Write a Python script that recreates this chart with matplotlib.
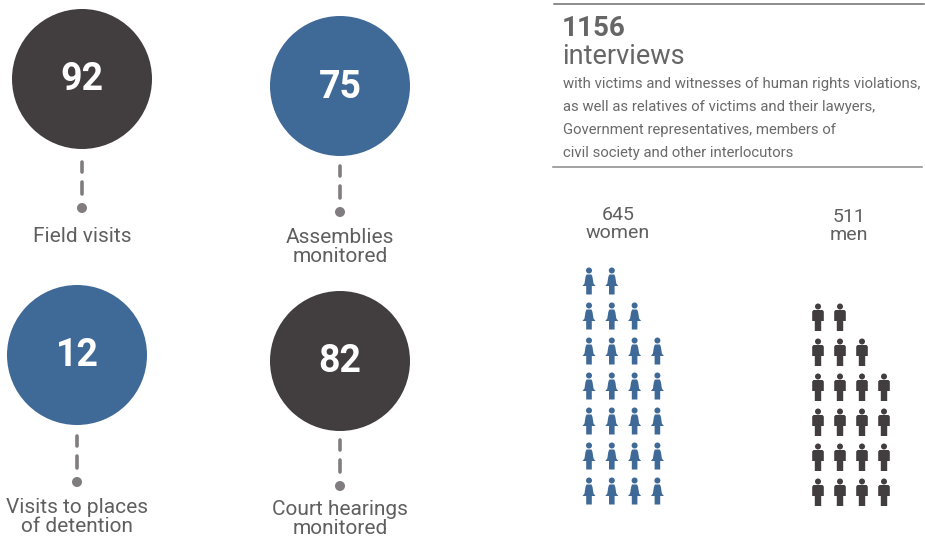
import matplotlib
matplotlib.use("Agg")
import matplotlib.pyplot as plt
from matplotlib.patches import Circle, PathPatch
from matplotlib.path import Path
from matplotlib.transforms import Affine2D

# Data
stat_values = ["92", "75", "12", "82"]
stat_labels = ["Field visits", "Assemblies\nmonitored", "Visits to places\nof detention", "Court hearings\nmonitored"]
total_value = "1156"
total_label = "interviews"
total_lines = ["with victims and witnesses of human rights violations,",
               "as well as relatives of victims and their lawyers,",
               "Government representatives, members of",
               "civil society and other interlocutors"]
women_label = "645\nwomen"
men_label = "511\nmen"
women_rows = [2, 3, 4, 4, 4, 4, 4]
men_rows = [2, 3, 4, 4, 4, 4]

DARK = "#423d3e"
BLUE = "#3f6997"
GREY = "#807c7f"
TEXT = "#5f5f5f"
plt.rcParams['font.family'] = ['Roboto', 'DejaVu Sans']

fig = plt.figure(figsize=(9.25, 5.41), dpi=100)
ax = fig.add_axes([0, 0, 1, 1])
ax.set_xlim(0, 925)
ax.set_ylim(541, 0)
ax.axis("off")

# circle stats: centre, colour, stem dash spans, dot y, label y
layout = [(82, 79, DARK, 161, 208, 236),
          (340, 86, BLUE, 165, 212, 247),
          (77, 355, BLUE, 435, 482, 517),
          (340, 361, DARK, 439, 486, 519)]
for (cx, cy, col, y0, yd, yl), val, lab in zip(layout, stat_values, stat_labels):
    ax.add_patch(Circle((cx, cy), 70, fc=col, ec="none"))
    ax.text(cx, cy + 1, val, color="white", fontsize=27, fontweight="bold", ha="center", va="center")
    ax.plot([cx, cx], [y0 + 1, y0 + 11], color=GREY, lw=2.6, solid_capstyle="round")
    ax.plot([cx, cx], [y0 + 21, y0 + 33], color=GREY, lw=2.6, solid_capstyle="round")
    ax.add_patch(Circle((cx, yd), 5, fc=GREY, ec="none"))
    ax.text(cx, yl, lab, color=TEXT, fontsize=15, ha="center", va="center", linespacing=0.95)

# text block
ax.plot([554, 924], [3.5, 3.5], color="#6e6e6e", lw=1.1)
ax.plot([553, 922], [166.5, 166.5], color="#8a8a8a", lw=1.1)
ax.text(562, 29, total_value, color="#666666", fontsize=20, fontweight="bold", ha="left", va="center")
ax.text(562, 57, total_label, color="#666666", fontsize=19.5, ha="left", va="center")
for y, line in zip([84, 107, 130, 153], total_lines):
    ax.text(563, y, line, color="#6a6a6a", fontsize=10.7, ha="left", va="center")

ax.text(618, 224, women_label, color=TEXT, fontsize=14, ha="center", va="center", linespacing=0.98)
ax.text(849, 226, men_label, color=TEXT, fontsize=14, ha="center", va="center", linespacing=0.98)

# unit icons, drawn on a local box: x in -7..7, y in -14..14
woman_body = Path([(-2.5, -6.5), (2.5, -6.5), (3.5, -4), (4.5, 2.5), (6.5, 5), (2.8, 5), (2.8, 13.5),
                   (-2.8, 13.5), (-2.8, 5), (-6.5, 5), (-4.5, 2.5), (-3.5, -4), (-2.5, -6.5)])
man_body = Path([(-4.5, -7), (4.5, -7), (5.8, -5.5), (5.8, 4), (3.2, 4), (3.2, 14),
                 (-3.2, 14), (-3.2, 4), (-5.8, 4), (-5.8, -5.5), (-4.5, -7)])

def draw_icons(rows, body, col, x0, y0, dx, dy):
    for r, n in enumerate(rows):
        for c in range(n):
            x = x0 + c * dx
            y = y0 + r * dy
            ax.add_patch(Circle((x, y - 10.5), 3, fc=col, ec="none"))
            ax.add_patch(PathPatch(body.transformed(Affine2D().translate(x, y)), fc=col, ec="none"))

draw_icons(women_rows, woman_body, BLUE, 589, 281, 22.8, 35)
draw_icons(men_rows, man_body, DARK, 818, 317, 22, 35)

fig.savefig("out.png", dpi=100, facecolor="white")
